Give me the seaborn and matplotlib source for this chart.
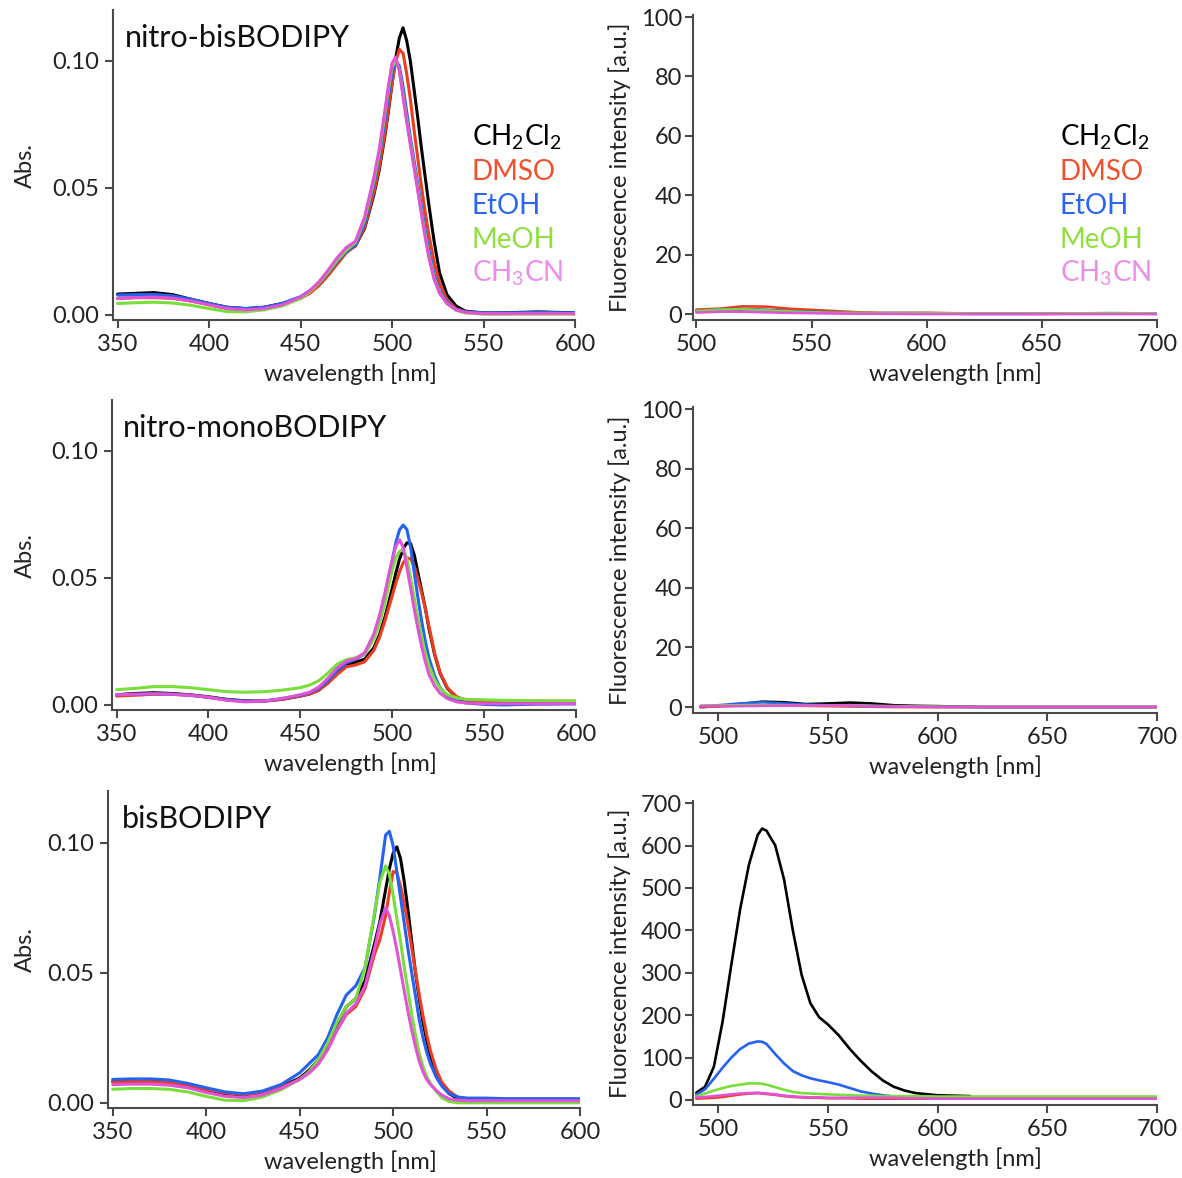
import numpy as np
import pandas as pd
import matplotlib
matplotlib.use("Agg")
import matplotlib.pyplot as plt
import seaborn as sns

# ---------------------------------------------------------------- data
solvents = ["CH2Cl2", "DMSO", "EtOH", "MeOH", "CH3CN"]
solvent_labels = ["CH$_2$Cl$_2$", "DMSO", "EtOH", "MeOH", "CH$_3$CN"]
line_colors = ["#000000", "#f03c1e", "#2462f2", "#78de3a", "#e252d6"]
text_colors = ["#000000", "#f0502c", "#2a66f2", "#92e040", "#ee8cee"]

compounds = ["nitro-bisBODIPY", "nitro-monoBODIPY", "bisBODIPY"]

# absorption wavelength grid [nm]
wl_abs = [350, 360, 370, 380, 390, 400, 410, 420, 430, 440,
          450, 455, 460, 465, 470, 475, 480, 485, 490, 493,
          496, 498, 500, 502, 504, 506, 508, 510, 512, 514,
          516, 518, 520, 523, 526, 530, 535, 540, 550, 560,
          580, 600]

# nitro-bisBODIPY absorbance
abs_nbis_ch2cl2 = [.0082, .0085, .0088, .0080, .0062, .0045, .0030, .0025, .0030, .0045,
                   .0068, .0088, .0118, .0158, .0205, .0248, .0272, .0340, .0470, .0570,
                   .0700, .0800, .0910, .1010, .1090, .1130, .1080, .1000, .0890, .0780,
                   .0660, .0550, .0440, .0290, .0165, .0080, .0035, .0015, .0008, .0008,
                   .0012, .0008]
abs_nbis_dmso = [.0065, .0068, .0068, .0065, .0055, .0040, .0025, .0020, .0025, .0040,
                 .0065, .0085, .0115, .0155, .0200, .0245, .0272, .0345, .0480, .0580,
                 .0710, .0810, .0910, .0995, .1045, .1030, .0950, .0850, .0730, .0620,
                 .0510, .0410, .0320, .0210, .0125, .0060, .0025, .0012, .0006, .0005,
                 .0008, .0005]
abs_nbis_etoh = [.0078, .0080, .0080, .0075, .0062, .0045, .0030, .0025, .0030, .0045,
                 .0072, .0095, .0125, .0165, .0210, .0250, .0275, .0360, .0510, .0620,
                 .0760, .0860, .0950, .1000, .0980, .0900, .0800, .0700, .0610, .0520,
                 .0430, .0340, .0260, .0160, .0095, .0050, .0022, .0012, .0008, .0008,
                 .0010, .0008]
abs_nbis_meoh = [.0045, .0048, .0050, .0047, .0038, .0025, .0013, .0012, .0020, .0035,
                 .0065, .0090, .0125, .0168, .0215, .0255, .0285, .0375, .0525, .0635,
                 .0785, .0885, .0975, .1000, .0965, .0870, .0770, .0680, .0590, .0500,
                 .0410, .0320, .0240, .0145, .0088, .0045, .0018, .0008, .0003, .0003,
                 .0003, .0003]
abs_nbis_ch3cn = [.0065, .0068, .0070, .0066, .0055, .0040, .0025, .0020, .0025, .0040,
                  .0070, .0095, .0130, .0175, .0225, .0265, .0290, .0385, .0540, .0650,
                  .0800, .0900, .0990, .1015, .0960, .0860, .0760, .0670, .0580, .0490,
                  .0400, .0310, .0230, .0140, .0085, .0045, .0020, .0010, .0005, .0005,
                  .0005, .0005]

# nitro-monoBODIPY absorbance
abs_nmono_ch2cl2 = [.0040, .0045, .0048, .0045, .0040, .0032, .0022, .0016, .0015, .0022,
                    .0035, .0043, .0058, .0088, .0125, .0155, .0168, .0180, .0225, .0275,
                    .0345, .0400, .0460, .0520, .0575, .0615, .0638, .0635, .0590, .0520,
                    .0450, .0380, .0300, .0200, .0125, .0065, .0030, .0015, .0010, .0010,
                    .0008, .0008]
abs_nmono_dmso = [.0035, .0038, .0042, .0042, .0038, .0030, .0020, .0015, .0015, .0022,
                  .0035, .0043, .0058, .0085, .0120, .0150, .0157, .0170, .0215, .0265,
                  .0330, .0380, .0430, .0480, .0525, .0560, .0578, .0575, .0545, .0495,
                  .0440, .0380, .0310, .0205, .0128, .0068, .0032, .0020, .0015, .0015,
                  .0015, .0015]
abs_nmono_etoh = [.0040, .0042, .0044, .0042, .0038, .0030, .0020, .0015, .0015, .0025,
                  .0038, .0048, .0065, .0095, .0135, .0165, .0180, .0200, .0265, .0330,
                  .0420, .0495, .0570, .0640, .0690, .0708, .0690, .0620, .0520, .0420,
                  .0330, .0250, .0185, .0115, .0068, .0035, .0015, .0008, .0002, .0000,
                  .0003, .0004]
abs_nmono_meoh = [.0060, .0065, .0072, .0072, .0068, .0060, .0052, .0050, .0052, .0058,
                  .0068, .0078, .0095, .0125, .0160, .0178, .0185, .0200, .0260, .0320,
                  .0400, .0470, .0530, .0580, .0605, .0610, .0575, .0500, .0420, .0340,
                  .0270, .0205, .0155, .0100, .0065, .0040, .0028, .0022, .0020, .0018,
                  .0016, .0015]
abs_nmono_ch3cn = [.0040, .0042, .0044, .0042, .0038, .0030, .0018, .0012, .0015, .0025,
                   .0040, .0050, .0070, .0105, .0145, .0172, .0182, .0205, .0280, .0350,
                   .0440, .0510, .0570, .0625, .0650, .0620, .0540, .0460, .0375, .0300,
                   .0230, .0170, .0120, .0075, .0046, .0025, .0012, .0008, .0005, .0005,
                   .0005, .0005]

# bisBODIPY absorbance
abs_bis_ch2cl2 = [.0082, .0085, .0085, .0080, .0068, .0050, .0035, .0030, .0040, .0062,
                  .0095, .0125, .0165, .0225, .0305, .0370, .0400, .0470, .0610, .0700,
                  .0820, .0900, .0960, .0985, .0940, .0850, .0740, .0620, .0500, .0400,
                  .0310, .0240, .0180, .0115, .0070, .0035, .0015, .0008, .0005, .0005,
                  .0005, .0005]
abs_bis_dmso = [.0080, .0082, .0082, .0078, .0068, .0052, .0038, .0032, .0040, .0060,
                .0090, .0115, .0150, .0205, .0280, .0340, .0370, .0440, .0570, .0630,
                .0720, .0810, .0890, .0885, .0835, .0765, .0685, .0595, .0505, .0415,
                .0335, .0262, .0200, .0130, .0080, .0045, .0020, .0012, .0010, .0010,
                .0010, .0010]
abs_bis_etoh = [.0090, .0092, .0092, .0088, .0075, .0058, .0042, .0035, .0045, .0070,
                .0115, .0150, .0185, .0250, .0340, .0415, .0450, .0520, .0720, .0870,
                .1030, .1045, .0990, .0890, .0790, .0690, .0590, .0500, .0410, .0320,
                .0250, .0195, .0150, .0100, .0065, .0035, .0022, .0018, .0018, .0016,
                .0016, .0016]
abs_bis_meoh = [.0052, .0055, .0055, .0052, .0042, .0025, .0010, .0008, .0022, .0050,
                .0090, .0120, .0165, .0230, .0310, .0370, .0400, .0520, .0730, .0850,
                .0912, .0880, .0800, .0710, .0620, .0520, .0430, .0340, .0260, .0190,
                .0140, .0100, .0075, .0045, .0020, .0005, .0000, .0000, .0000, .0000,
                .0000, .0000]
abs_bis_ch3cn = [.0070, .0072, .0072, .0068, .0058, .0040, .0025, .0020, .0030, .0055,
                 .0090, .0115, .0150, .0205, .0280, .0345, .0380, .0450, .0590, .0690,
                 .0752, .0720, .0660, .0590, .0510, .0430, .0350, .0280, .0215, .0160,
                 .0120, .0090, .0070, .0048, .0030, .0015, .0010, .0008, .0008, .0008,
                 .0008, .0008]

# nitro-bisBODIPY fluorescence
wl_fl_nbis = [500, 510, 520, 530, 540, 550, 560, 570, 580, 600, 620, 650, 680, 700]
fl_nbis_ch2cl2 = [1.0, 1.3, 1.5, 1.3, 1.0, 0.7, 0.5, 0.3, 0.2, 0.2, 0.1, 0.1, 0.2, 0.1]
fl_nbis_dmso = [1.5, 1.8, 2.6, 2.5, 1.8, 1.4, 1.0, 0.6, 0.4, 0.4, 0.2, 0.1, 0.2, 0.2]
fl_nbis_etoh = [1.0, 1.6, 1.7, 1.4, 1.0, 0.8, 0.5, 0.3, 0.3, 0.3, 0.1, 0.1, 0.3, 0.2]
fl_nbis_meoh = [1.0, 1.5, 1.6, 1.2, 0.9, 0.6, 0.4, 0.4, 0.3, 0.3, 0.2, 0.2, 0.3, 0.2]
fl_nbis_ch3cn = [0.5, 0.8, 0.8, 0.6, 0.4, 0.3, 0.2, 0.1, 0.1, 0.0, 0.0, 0.0, 0.0, 0.0]

# nitro-monoBODIPY fluorescence
wl_fl_nmono = [492, 500, 510, 520, 530, 540, 550, 560, 570, 580, 590, 600, 620, 650, 680, 700]
fl_nmono_ch2cl2 = [0.0, 0.3, 1.0, 1.8, 1.6, 1.0, 1.2, 1.5, 1.2, 0.6, 0.4, 0.3, 0.0, 0.0, 0.0, 0.0]
fl_nmono_dmso = [0.0, 0.2, 0.5, 0.6, 0.5, 0.4, 0.3, 0.2, 0.1, 0.0, 0.0, 0.0, 0.0, 0.0, 0.0, 0.0]
fl_nmono_etoh = [0.3, 0.6, 1.2, 1.6, 1.2, 0.8, 0.6, 0.4, 0.3, 0.2, 0.1, 0.1, 0.0, 0.0, 0.0, 0.0]
fl_nmono_meoh = [0.5, 0.5, 0.6, 0.7, 0.6, 0.5, 0.5, 0.4, 0.4, 0.3, 0.2, 0.1, 0.0, 0.0, 0.0, 0.0]
fl_nmono_ch3cn = [0.3, 0.3, 0.3, 0.4, 0.5, 0.5, 0.5, 0.5, 0.3, 0.2, 0.1, 0.0, 0.0, 0.0, 0.0, 0.0]

# bisBODIPY fluorescence
wl_fl_bis = [490, 494, 498, 502, 506, 510, 514, 518, 520, 522,
             526, 530, 534, 538, 542, 546, 550, 555, 560, 565,
             570, 575, 580, 585, 590, 600, 615, 640, 670, 700]
fl_bis_ch2cl2 = [17, 31, 78, 185, 320, 450, 555, 625, 640, 635,
                 600, 520, 400, 295, 228, 195, 178, 152, 120, 92,
                 67, 46, 31, 22, 16, 11, 9, np.nan, np.nan, np.nan]
fl_bis_dmso = [3, 4, 5, 7, 10, 13, 15, 16, 15, 14,
               12, 9, 7, 6, 5, 5, 4, 4, 4, 3,
               3, 3, 3, 3, 3, 3, 3, 3, 3, 3]
fl_bis_etoh = [12, 25, 50, 76, 100, 120, 133, 138, 137, 132,
               108, 86, 68, 58, 51, 46, 42, 36, 28, 20,
               15, 11, 8, 6, 5, 4, 4, 4, 4, 4]
fl_bis_meoh = [8, 15, 22, 28, 33, 36, 39, 39, 38, 36,
               30, 24, 19, 16, 15, 14, 13, 12, 11, 10,
               10, 9, 9, 9, 9, 8, 8, 8, 8, 8]
fl_bis_ch3cn = [6, 7, 9, 11, 13, 15, 16, 17, 16, 15,
                13, 10, 8, 7, 6, 6, 5, 5, 5, 5,
                5, 5, 5, 4, 4, 3, 3, 3, 3, 3]

abs_sets = [
    [abs_nbis_ch2cl2, abs_nbis_dmso, abs_nbis_etoh, abs_nbis_meoh, abs_nbis_ch3cn],
    [abs_nmono_ch2cl2, abs_nmono_dmso, abs_nmono_etoh, abs_nmono_meoh, abs_nmono_ch3cn],
    [abs_bis_ch2cl2, abs_bis_dmso, abs_bis_etoh, abs_bis_meoh, abs_bis_ch3cn],
]
fl_sets = [
    (wl_fl_nbis, [fl_nbis_ch2cl2, fl_nbis_dmso, fl_nbis_etoh, fl_nbis_meoh, fl_nbis_ch3cn]),
    (wl_fl_nmono, [fl_nmono_ch2cl2, fl_nmono_dmso, fl_nmono_etoh, fl_nmono_meoh, fl_nmono_ch3cn]),
    (wl_fl_bis, [fl_bis_ch2cl2, fl_bis_dmso, fl_bis_etoh, fl_bis_meoh, fl_bis_ch3cn]),
]


def long_frame(wl, series):
    rows = []
    for name, vals in zip(solvents, series):
        for w, v in zip(wl, vals):
            rows.append((w, v, name))
    return pd.DataFrame(rows, columns=["wavelength", "value", "solvent"]).dropna()


# ---------------------------------------------------------------- style
sns.set_style("ticks")
plt.rcParams["font.family"] = ["Lato", "DejaVu Sans"]
plt.rcParams["mathtext.default"] = "regular"
AX_COL = "#4a4a4a"
TXT_COL = "#222222"
plt.rcParams.update({
    "axes.edgecolor": AX_COL,
    "axes.linewidth": 1.5,
    "xtick.color": AX_COL,
    "ytick.color": AX_COL,
    "xtick.labelcolor": TXT_COL,
    "ytick.labelcolor": TXT_COL,
    "xtick.major.width": 1.5,
    "ytick.major.width": 1.5,
    "xtick.major.size": 6,
    "ytick.major.size": 6,
    "xtick.labelsize": 17,
    "ytick.labelsize": 17,
    "axes.labelsize": 17,
    "axes.labelcolor": TXT_COL,
})

W, H = 1182, 1178
fig = plt.figure(figsize=(W / 100, H / 100), dpi=100)
palette = dict(zip(solvents, line_colors))


def add_axes_px(x0, y0, x1, y1):
    return fig.add_axes([x0 / W, 1 - y1 / H, (x1 - x0) / W, (y1 - y0) / H])


def px_to_axes(box, x, y):
    x0, y0, x1, y1 = box
    return (x - x0) / (x1 - x0), (y1 - y) / (y1 - y0)


# pixel boxes of each panel (left, top, right, bottom)
abs_boxes = [(113, 10, 575, 320), (112, 400, 576, 710), (108, 791, 580, 1108)]
fl_boxes = [(693, 15, 1157, 320), (693, 407, 1157, 713), (693, 801, 1157, 1105)]
fl_xlims = [(498.5, 700), (488.5, 700), (488.5, 700)]
fl_ylims = [(-2, 100.7), (-2, 100.7), (-12, 705)]
fl_yticks = [np.arange(0, 101, 20), np.arange(0, 101, 20), np.arange(0, 701, 100)]
title_pos = [(125, 47), (123, 437), (122, 828)]
legend_x_abs = 472
legend_x_fl = 1060
legend_y = [145, 180, 214, 248, 282]

for row in range(3):
    # ---- absorption panel
    box = abs_boxes[row]
    ax = add_axes_px(*box)
    df = long_frame(wl_abs, abs_sets[row])
    sns.lineplot(data=df, x="wavelength", y="value", hue="solvent",
                 hue_order=solvents, palette=palette, legend=False,
                 linewidth=2.2, estimator=None, ax=ax)
    ax.set_xlim(347.5, 600)
    ax.set_ylim(-0.002, 0.12)
    ax.set_xticks(np.arange(350, 601, 50))
    ax.set_yticks([0.0, 0.05, 0.10])
    ax.set_yticklabels(["0.00", "0.05", "0.10"])
    sns.despine(ax=ax)
    ax.tick_params(axis="x", pad=4)
    ax.tick_params(axis="y", pad=4)
    ax.set_xlabel("wavelength [nm]")
    ax.set_ylabel("Abs.")
    ax.xaxis.set_label_coords(*px_to_axes(box, 350, box[3] + 42))
    ax.yaxis.set_label_coords(*px_to_axes(box, 36, (box[1] + box[3]) / 2))
    tx, ty = px_to_axes(box, *title_pos[row])
    ax.text(tx, ty, compounds[row], transform=ax.transAxes, fontsize=22,
            color="#111111", ha="left", va="baseline")

    # ---- fluorescence panel
    box = fl_boxes[row]
    ax = add_axes_px(*box)
    wl_fl, fl_series = fl_sets[row]
    df = long_frame(wl_fl, fl_series)
    sns.lineplot(data=df, x="wavelength", y="value", hue="solvent",
                 hue_order=solvents, palette=palette, legend=False,
                 linewidth=1.9, estimator=None, ax=ax)
    ax.set_xlim(*fl_xlims[row])
    ax.set_ylim(*fl_ylims[row])
    ax.set_xticks(np.arange(500, 701, 50))
    ax.set_yticks(fl_yticks[row])
    sns.despine(ax=ax)
    ax.tick_params(axis="x", pad=4)
    ax.tick_params(axis="y", pad=2)
    ax.set_xlabel("wavelength [nm]")
    ax.set_ylabel("Fluorescence intensity [a.u.]")
    ax.xaxis.set_label_coords(*px_to_axes(box, 955, box[3] + 42))
    ax.yaxis.set_label_coords(*px_to_axes(box, 631, (box[1] + box[3]) / 2))

# solvent labels beside the top row
for lx in (legend_x_abs, legend_x_fl):
    for lab, col, yy in zip(solvent_labels, text_colors, legend_y):
        fig.text(lx / W, 1 - yy / H, lab, color=col, fontsize=20,
                 ha="left", va="baseline")

fig.savefig("out.png", dpi=100)
